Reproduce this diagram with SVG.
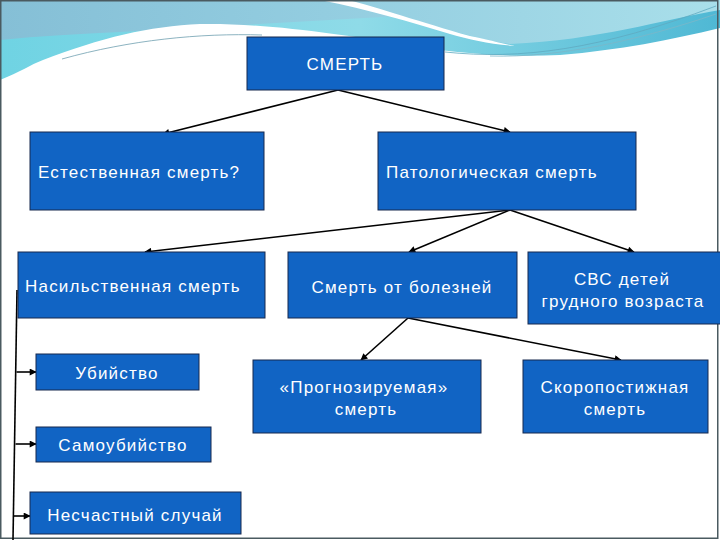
<svg xmlns="http://www.w3.org/2000/svg" width="720" height="540" viewBox="0 0 720 540">
<defs>
<linearGradient id="band" x1="0" y1="0" x2="1" y2="0">
<stop offset="0" stop-color="#85bfd6"/>
<stop offset="0.45" stop-color="#93cde0"/>
<stop offset="1" stop-color="#a9dfea"/>
</linearGradient>
<linearGradient id="cyan" x1="0" y1="0" x2="1" y2="0">
<stop offset="0" stop-color="#6fd3e3"/>
<stop offset="0.5" stop-color="#8fdbe8"/>
<stop offset="1" stop-color="#4fb8d4"/>
</linearGradient>
<marker id="ah" viewBox="0 0 10 10" refX="9" refY="5" markerWidth="9" markerHeight="7" markerUnits="userSpaceOnUse" orient="auto">
<path d="M0,0 L10,5 L0,10 Z" fill="#000"/>
</marker>
<style>
.box{fill:#1164c4;stroke:#16294f;stroke-width:1}
.t{font-family:"Liberation Sans",Arial,sans-serif;font-size:17px;fill:#fff;letter-spacing:1.2px}
.c{text-anchor:middle}
.ln{stroke:#000;stroke-width:1.6;fill:none}
.ar{stroke:#000;stroke-width:1.6;fill:none;marker-end:url(#ah)}
</style>
</defs>
<g id="background">
<rect x="0" y="0" width="720" height="90" fill="url(#band)"/>
<path d="M0,90 L0,40 C40,36 80,34 120,32 L400,16 C450,30 480,40 510,44 C600,40 660,20 720,10 L720,90 Z" fill="url(#cyan)"/>
<path d="M320,0 L348,0 C380,8 420,22 470,36 C490,40 500,43 515,46 C490,44 470,40 450,34 C410,22 370,10 320,0 Z" fill="#fff"/>
<path d="M0,80 C20,72 30,65 43,60 C100,38 150,26 200,24 C260,23 330,32 440,50 C480,55 520,57 560,55 C620,50 670,40 720,28 L720,540 L0,540 Z" fill="#fff"/>
<path d="M62,59 C130,40 200,33 262,35" stroke="#6f9fb0" stroke-width="0.8" fill="none"/>
<path d="M445,52 C520,60 600,50 716,6" stroke="#5fa9c0" stroke-width="0.8" fill="none"/>
<path d="M490,56 C560,58 640,40 716,14" stroke="#7cb6c8" stroke-width="0.8" fill="none"/>
<rect x="0.75" y="0.75" width="717" height="537.5" fill="none" stroke="#4a5a60" stroke-width="1.5"/>
</g>
<g id="connectors">
<line class="ar" x1="338" y1="90" x2="163" y2="134"/>
<line class="ar" x1="338" y1="90" x2="510" y2="132"/>
<line class="ar" x1="510" y1="210" x2="145" y2="252"/>
<line class="ar" x1="510" y1="210" x2="409" y2="252"/>
<line class="ar" x1="510" y1="210" x2="634" y2="252"/>
<line class="ar" x1="408" y1="318" x2="361" y2="360"/>
<line class="ar" x1="408" y1="318" x2="621" y2="360"/>
<line class="ln" x1="17" y1="290" x2="13" y2="540"/>
<line class="ar" x1="16.5" y1="372" x2="36" y2="372"/>
<line class="ar" x1="15.5" y1="444" x2="36" y2="444"/>
<line class="ar" x1="14" y1="516" x2="30" y2="516"/>
</g>
<g id="n-smert">
<rect class="box" x="247" y="37" width="197" height="53"/>
<text class="t c" x="345" y="70">СМЕРТЬ</text>
</g>
<g id="n-estestvennaya">
<rect class="box" x="30" y="132" width="234" height="78"/>
<text class="t" x="38" y="178">Естественная смерть?</text>
</g>
<g id="n-patologicheskaya">
<rect class="box" x="378" y="132" width="258" height="78"/>
<text class="t" x="386" y="178">Патологическая смерть</text>
</g>
<g id="n-nasilstvennaya">
<rect class="box" x="18" y="252" width="247" height="66"/>
<text class="t" x="25" y="292">Насильственная смерть</text>
</g>
<g id="n-bolezni">
<rect class="box" x="288" y="252" width="229" height="66"/>
<text class="t c" x="402" y="293">Смерть от болезней</text>
</g>
<g id="n-svs">
<rect class="box" x="528" y="252" width="194" height="72"/>
<text class="t c" x="622" y="285">СВС детей</text>
<text class="t c" x="623" y="307">грудного возраста</text>
</g>
<g id="n-ubiystvo">
<rect class="box" x="36" y="354" width="163" height="36"/>
<text class="t c" x="117" y="379">Убийство</text>
</g>
<g id="n-samoubiystvo">
<rect class="box" x="36" y="427" width="175" height="35"/>
<text class="t c" x="123" y="451">Самоубийство</text>
</g>
<g id="n-neschastny">
<rect class="box" x="30" y="492" width="211" height="42"/>
<text class="t c" x="135" y="521">Несчастный случай</text>
</g>
<g id="n-prognoz">
<rect class="box" x="253" y="360" width="228" height="73"/>
<text class="t c" x="364" y="393">«Прогнозируемая»</text>
<text class="t c" x="366" y="415">смерть</text>
</g>
<g id="n-skoropost">
<rect class="box" x="523" y="360" width="185" height="73"/>
<text class="t c" x="615" y="393">Скоропостижная</text>
<text class="t c" x="615" y="415">смерть</text>
</g>
</svg>
